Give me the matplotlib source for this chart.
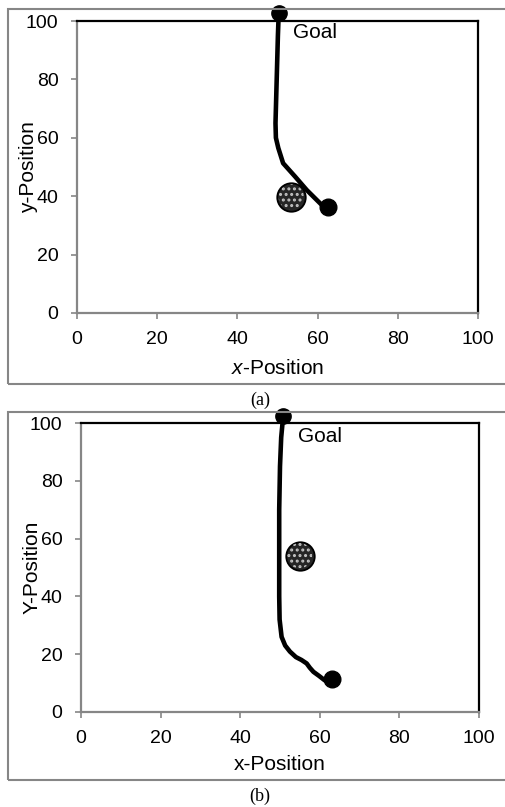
import matplotlib

matplotlib.use("Agg")
import matplotlib.pyplot as plt
from matplotlib.patches import Rectangle

plt.rcParams["font.family"] = ["Liberation Sans", "DejaVu Sans"]
plt.rcParams["mathtext.fontset"] = "custom"
plt.rcParams["mathtext.rm"] = "Liberation Sans"
plt.rcParams["mathtext.it"] = "Liberation Sans:italic"
plt.rcParams["hatch.linewidth"] = 1.4

# panel (a) trajectory, goal -> start
path_a_x = [50.3, 50.1, 49.9, 49.7, 49.5, 49.6, 50.2, 51.4, 54.4, 57.3, 60.6, 62.0]
path_a_y = [102.5, 95, 85, 75, 65, 60, 56.5, 51.3, 46.7, 42.1, 37.6, 35.8]
goal_a = (50.4, 102.6)
start_a = (62.7, 36.4)
obstacle_a = (53.4, 39.8)

# panel (b) trajectory, goal -> start
path_b_x = [50.8, 50.3, 50.0, 49.8, 49.8, 49.8, 49.9, 50.4, 51.3, 52.5, 54.0,
            55.4, 56.7, 57.5, 58.4, 59.8, 61.2, 62.2]
path_b_y = [102.4, 95, 85, 70, 55, 40, 32, 26, 23, 20.9, 19.0,
            18.0, 16.8, 15.3, 13.9, 12.5, 11.0, 10.3]
goal_b = (50.8, 102.4)
start_b = (63.1, 11.4)
obstacle_b = (54.9, 54.1)

ticks = [0, 20, 40, 60, 80, 100]
GRAY = "#868686"

W, H = 506, 807
fig = plt.figure(figsize=(W / 100, H / 100), dpi=100)


def px_axes(left, top, right, bottom):
    return fig.add_axes([left / W, 1 - bottom / H, (right - left) / W, (bottom - top) / H])


def draw_panel(ax, px, py, goal, start, obst, goal_txt, xlabel, ylabel, ylab_x, xlab_y):
    ax.plot(px, py, color="black", lw=3.3, solid_capstyle="round", clip_on=False, zorder=3)
    ax.plot(*goal, "o", color="black", ms=11, clip_on=False, zorder=4)
    ax.plot(*start, "o", color="black", ms=12, clip_on=False, zorder=4)
    ax.scatter([obst[0]], [obst[1]], s=420, facecolor="#262626", edgecolor="black",
               linewidths=1.3, zorder=5, clip_on=False)
    ax.scatter([obst[0]], [obst[1]], s=330, facecolor="none", edgecolor="#c4c4c4",
               linewidths=0, hatch="...", zorder=6, clip_on=False)
    ax.text(goal_txt[0], goal_txt[1], "Goal", fontsize=15, va="center", ha="left")
    ax.set_xlim(0, 100)
    ax.set_ylim(0, 100)
    ax.set_xticks(ticks)
    ax.set_yticks(ticks)
    for s in ("top", "right"):
        ax.spines[s].set_color("black")
        ax.spines[s].set_linewidth(1.6)
    for s in ("left", "bottom"):
        ax.spines[s].set_color(GRAY)
        ax.spines[s].set_linewidth(1.6)
    ax.tick_params(axis="both", direction="out", length=4.3, width=1.2, color=GRAY,
                   labelsize=14, labelcolor="black")
    ax.tick_params(axis="x", pad=9)
    ax.tick_params(axis="y", pad=9)
    ax.set_xlabel(xlabel, fontsize=15)
    ax.set_ylabel(ylabel, fontsize=15)
    ax.xaxis.set_label_coords(0.5, xlab_y)
    ax.yaxis.set_label_coords(ylab_x, 0.5)


# outer frames
for top, bottom in ((9, 384), (412, 780)):
    fig.add_artist(Rectangle((8 / W, 1 - bottom / H), 1.0, (bottom - top) / H,
                             transform=fig.transFigure, fill=False, edgecolor=GRAY, lw=1.5))

ax_a = px_axes(77, 21, 478, 313)
draw_panel(ax_a, path_a_x, path_a_y, goal_a, start_a, obstacle_a, (53.9, 96.2),
           "$\\it{x}$-Position", "y-Position", -0.097, -0.158)

ax_b = px_axes(81, 423, 479, 712)
draw_panel(ax_b, path_b_x, path_b_y, goal_b, start_b, obstacle_b, (54.5, 95.3),
           "x-Position", "Y-Position", -0.098, -0.15)

fig.text(260 / W, 1 - 400 / H, "(a)", family="Liberation Serif", fontsize=13,
         ha="center", va="center")
fig.text(260 / W, 1 - 796 / H, "(b)", family="Liberation Serif", fontsize=13,
         ha="center", va="center")

fig.savefig("out.png", dpi=100)
